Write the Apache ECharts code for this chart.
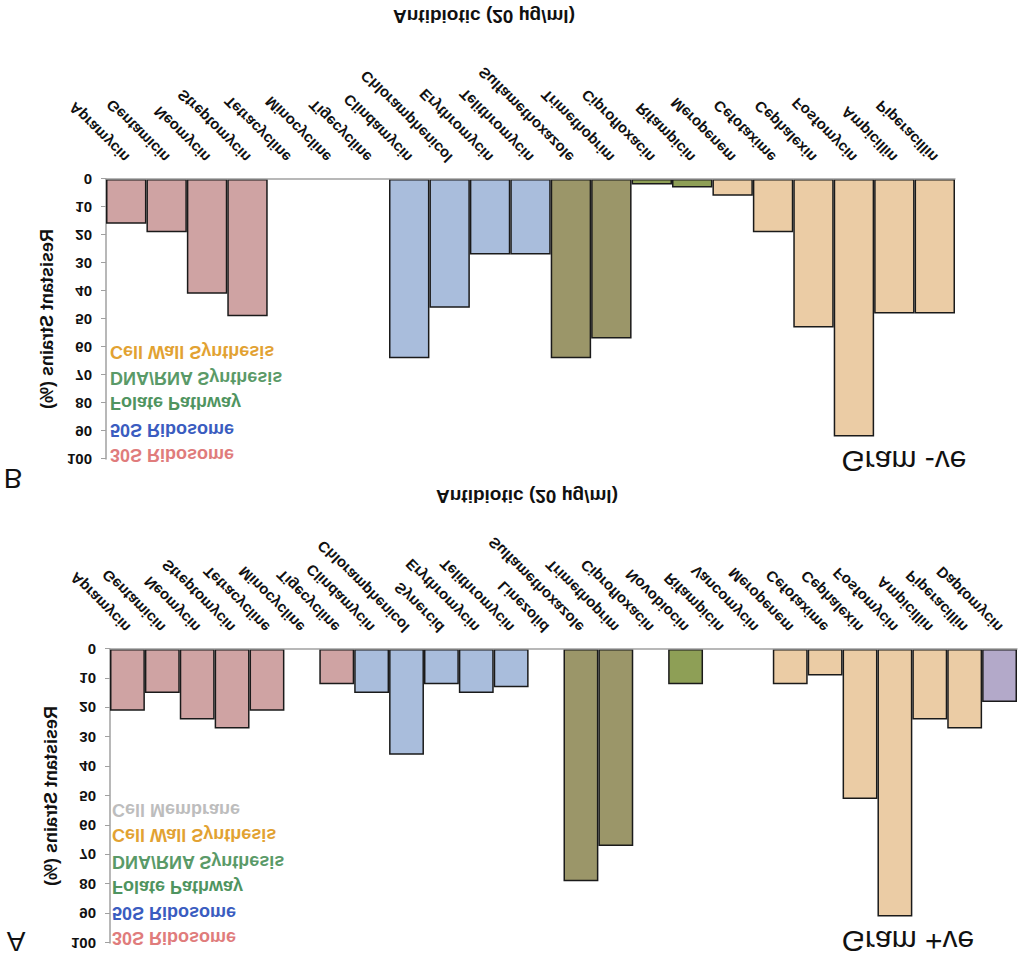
<!DOCTYPE html>
<html>
<head>
<meta charset="utf-8">
<script src="https://cdn.jsdelivr.net/npm/echarts@6/dist/echarts.min.js"></script>
<style>
  html, body { margin: 0; padding: 0; background: #ffffff; }
  #chart { width: 1024px; height: 959px; transform: scaleY(-1); }
</style>
</head>
<body>
<div id="chart"></div>
<script>
// ---------- DATA ----------
const categoriesB = ['Apramycin','Gentamicin','Neomycin','Streptomycin','Tetracycline','Minocycline','Tigecycline',
  'Clindamycin','Chloramphenicol','Erythromycin','Telithromycin','Sulfamethoxazole','Trimethoprim',
  'Ciprofloxacin','Rifampicin','Meropenem','Cefotaxime','Cephalexin','Fosfomycin','Ampicillin','Piperacillin'];
const valuesB = [16, 19, 41, 49, 0, 0, 0, 64, 46, 27, 27, 64, 57, 2, 3, 6, 19, 53, 92, 48, 48];
const classesB = ['30S','30S','30S','30S','30S','30S','30S','50S','50S','50S','50S','Folate','Folate',
  'DNA','DNA','Wall','Wall','Wall','Wall','Wall','Wall'];

const categoriesA = ['Apramycin','Gentamicin','Neomycin','Streptomycin','Tetracycline','Minocycline','Tigecycline',
  'Clindamycin','Chloramphenicol','Synercid','Erythromycin','Telithromycin','Linezolid','Sulfamethoxazole',
  'Trimethoprim','Ciprofloxacin','Novobiocin','Rifampicin','Vancomycin','Meropenem','Cefotaxime','Cephalexin',
  'Fosfomycin','Ampicillin','Piperacillin','Daptomycin'];
const valuesA = [21, 15, 24, 27, 21, 0, 12, 15, 36, 12, 15, 13, 0, 79, 67, 0, 12, 0, 0, 12, 9, 51, 91, 24, 27, 18];
const classesA = ['30S','30S','30S','30S','30S','30S','30S','50S','50S','50S','50S','50S','50S','Folate',
  'Folate','DNA','DNA','DNA','Wall','Wall','Wall','Wall','Wall','Wall','Wall','Membrane'];

const yTicks = [0, 10, 20, 30, 40, 50, 60, 70, 80, 90, 100];
const axisTitle = 'Antibiotic (20 µg/ml)';
const yTitle = 'Resistant Strains (%)';
const legendB = ['30S Ribosome','50S Ribosome','Folate Pathway','DNA/RNA Synthesis','Cell Wall Synthesis'];
const legendA = ['30S Ribosome','50S Ribosome','Folate Pathway','DNA/RNA Synthesis','Cell Wall Synthesis','Cell Membrane'];
const legendKeysB = ['30S','50S','Folate','DNA','Wall'];
const legendKeysA = ['30S','50S','Folate','DNA','Wall','Membrane'];

// ---------- STYLE ----------
const barColors = { '30S':'#CFA3A3', '50S':'#A9BDDC', 'Folate':'#9B9669', 'DNA':'#8E9F56', 'Wall':'#EBCCA5', 'Membrane':'#B3A9C9' };
const textColors = { '30S':'#E07C7C', '50S':'#3A5CC0', 'Folate':'#4F9460', 'DNA':'#5A9A68', 'Wall':'#E2A232', 'Membrane':'#BDBDBD' };
const FF = '"Liberation Sans", Arial, sans-serif';

function xAxisCfg(grid, cats) {
  return {
    gridIndex: grid, type: 'category', data: cats, z: 5,
    axisLine: { lineStyle: { color: '#A0A0A0', width: 1.5 } },
    axisTick: { show: false },
    axisLabel: { interval: 0, rotate: 45, margin: 19, fontSize: 15, fontWeight: 'bold', color: '#111', fontFamily: FF }
  };
}
function yAxisCfg(grid) {
  return {
    gridIndex: grid, type: 'value', min: 0, max: 100, interval: 10,
    name: yTitle, nameLocation: 'middle', nameGap: 50,
    nameTextStyle: { fontSize: 18, fontWeight: 'bold', color: '#111', fontFamily: FF },
    axisLine: { show: true, lineStyle: { color: '#A0A0A0', width: 1.5 } },
    axisTick: { show: true, length: 5, lineStyle: { color: '#A0A0A0' } },
    axisLabel: { margin: 14, fontSize: 15, fontWeight: 'bold', color: '#111', fontFamily: FF,
      formatter: v => (yTicks.indexOf(v) >= 0 ? String(v) : '') },
    splitLine: { show: false }
  };
}
function barData(values, classes) {
  return values.map((v, i) => v === 0 ? '-' : { value: v, itemStyle: { color: barColors[classes[i]] } });
}
function txt(x, y, text, color, font, align) {
  return { type: 'text', x: x, y: y, z: 10,
    style: { text: text, fill: color, font: font, align: align || 'left', verticalAlign: 'middle',
      textAlign: align || 'left', textVerticalAlign: 'middle' } };
}

const graphics = [];
graphics.push(txt(484, 943, axisTitle, '#111', 'bold 19px ' + FF, 'center'));
graphics.push(txt(527, 463, axisTitle, '#111', 'bold 19px ' + FF, 'center'));
graphics.push(txt(13, 481, 'B', '#111', 'normal 28px ' + FF, 'center'));
graphics.push(txt(16, 18, 'A', '#111', 'normal 28px ' + FF, 'center'));
graphics.push(txt(904, 498, 'Gram -ve', '#111', 'normal 30px ' + FF, 'center'));
graphics.push(txt(908, 18, 'Gram +ve', '#111', 'normal 30px ' + FF, 'center'));
const legYB = [504, 529, 556, 581, 607];
legendB.forEach((t, i) => graphics.push(txt(110, legYB[i], t, textColors[legendKeysB[i]], 'bold 18px ' + FF)));
const legYA = [21, 46, 72, 97, 124, 149];
legendA.forEach((t, i) => graphics.push(txt(112, legYA[i], t, textColors[legendKeysA[i]], 'bold 18px ' + FF)));

const chart = echarts.init(document.getElementById('chart'), null, { renderer: 'svg' });
chart.setOption({
  animation: false,
  backgroundColor: '#ffffff',
  grid: [
    { left: 106, top: 500, width: 849, height: 280 },
    { left: 110, top: 16, width: 907, height: 294 }
  ],
  xAxis: [xAxisCfg(0, categoriesB), xAxisCfg(1, categoriesA)],
  yAxis: [yAxisCfg(0), yAxisCfg(1)],
  series: [
    { type: 'bar', xAxisIndex: 0, yAxisIndex: 0, barCategoryGap: '0%', data: barData(valuesB, classesB),
      itemStyle: { borderColor: '#1a1a1a', borderWidth: 1.5 } },
    { type: 'bar', xAxisIndex: 1, yAxisIndex: 1, barCategoryGap: '0%', data: barData(valuesA, classesA),
      itemStyle: { borderColor: '#1a1a1a', borderWidth: 1.5 } }
  ],
  graphic: graphics
});
</script>
</body>
</html>
